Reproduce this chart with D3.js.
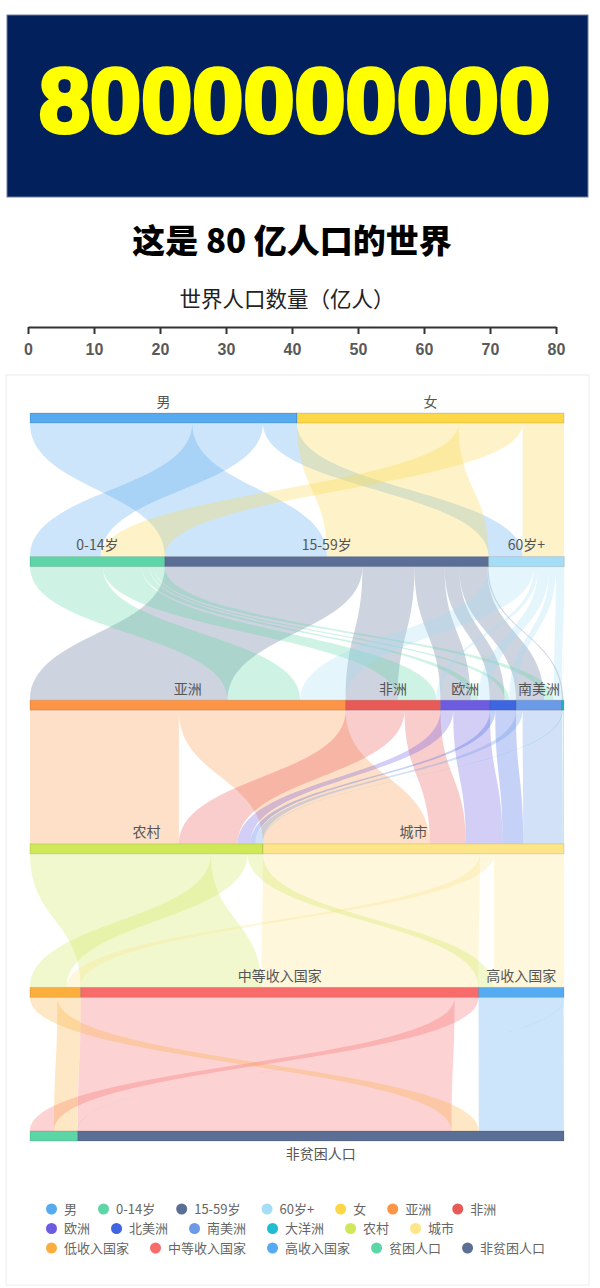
<!DOCTYPE html>
<html><head><meta charset="utf-8">
<script src="https://cdn.jsdelivr.net/npm/d3@7"></script>
<style>body{margin:0;background:#fff}</style></head>
<body><svg id="c" width="600" height="1288"></svg>
<script>
// ---------------- DATA ----------------
const bannerText = "8000000000";
const titleText = "这是 80 亿人口的世界";
const axisTitle = "世界人口数量（亿人）";
const axisTicks = [0, 10, 20, 30, 40, 50, 60, 70, 80];
const axisMax = 80;

const layerSex = ["男", "女"];
const layerAge = ["0-14岁", "15-59岁", "60岁+"];
const layerContinent = ["亚洲", "非洲", "欧洲", "北美洲", "南美洲", "大洋洲"];
const layerArea = ["农村", "城市"];
const layerIncome = ["低收入国家", "中等收入国家", "高收入国家"];
const layerPoverty = ["贫困人口", "非贫困人口"];

const legendNames = ["男","0-14岁","15-59岁","60岁+","女","亚洲","非洲","欧洲","北美洲","南美洲","大洋洲","农村","城市","低收入国家","中等收入国家","高收入国家","贫困人口","非贫困人口"];
const legendColors = ["#55aaf0","#5cd6a6","#5b6e96","#a6ddf6","#fcd748","#fd9446","#e85a55","#6e5ce0","#3f66e0","#6b9ae6","#1fbcd2","#cfe858","#fde68a","#fbae3e","#f86b6b","#56aaf2","#5cd6a6","#5b6e96"];
const legendRowStarts = [0, 7, 13];

// links in data order: [source, target, value (亿人)]
const linksSexAge = [
  ["男", "15-59岁", 24.3], ["男", "0-14岁", 10.6], ["男", "60岁+", 5.1],
  ["女", "15-59岁", 24.2], ["女", "0-14岁", 9.6], ["女", "60岁+", 6.2]
];
const linksAgeContinent = [
  ["15-59岁","亚洲",29.6],["15-59岁","非洲",7.8],["15-59岁","欧洲",4.5],["15-59岁","北美洲",2.2],["15-59岁","南美洲",4.2],["15-59岁","大洋洲",0.2],
  ["0-14岁","亚洲",10.9],["0-14岁","非洲",5.8],["0-14岁","欧洲",1.2],["0-14岁","北美洲",0.7],["0-14岁","南美洲",1.5],["0-14岁","大洋洲",0.06],
  ["60岁+","亚洲",6.8],["60岁+","非洲",0.6],["60岁+","欧洲",1.7],["60岁+","北美洲",1.0],["60岁+","南美洲",1.2],["60岁+","大洋洲",0.04]
];
const linksContinentArea = [
  ["亚洲","农村",22.3],["亚洲","城市",25.0],
  ["非洲","农村",8.8],["非洲","城市",5.4],
  ["欧洲","农村",1.9],["欧洲","城市",5.5],
  ["北美洲","农村",0.8],["北美洲","城市",3.1],
  ["南美洲","农村",1.0],["南美洲","城市",5.9],
  ["大洋洲","农村",0.1],["大洋洲","城市",0.2]
];
const linksAreaIncome = [
  ["农村","中等收入国家",27.1],["城市","中等收入国家",32.5],
  ["农村","低收入国家",5.5],["城市","低收入国家",2.1],
  ["农村","高收入国家",2.3],["城市","高收入国家",10.5]
];
const linksIncomePoverty = [
  ["中等收入国家","非贫困人口",56.0],["中等收入国家","贫困人口",3.6],
  ["低收入国家","非贫困人口",4.1],["低收入国家","贫困人口",3.5],
  ["高收入国家","非贫困人口",12.75],["高收入国家","贫困人口",0.05]
];

// ---------------- LAYOUT ----------------
const svg = d3.select("#c");
const cjk = "'Noto Sans CJK SC','Noto Sans',sans-serif";

// banner
svg.append("rect").attr("x", 7).attr("y", 15).attr("width", 581).attr("height", 182)
  .attr("fill", "#02205c").attr("stroke", "#6f7fa0").attr("stroke-width", 1);
svg.append("text").attr("x", 39).attr("y", 132)
  .attr("textLength", 511).attr("lengthAdjust", "spacingAndGlyphs")
  .style("font-family", "'Liberation Sans',Arial,sans-serif").style("font-weight", "bold")
  .style("font-size", "91px").attr("fill", "#ffff00").attr("stroke", "#ffff00")
  .attr("stroke-width", 4).attr("stroke-linejoin", "round").text(bannerText);

// title
svg.append("text").attr("x", 292).attr("y", 253).attr("text-anchor", "middle")
  .style("font-family", cjk).style("font-weight", "900").style("font-size", "33px")
  .attr("fill", "#000").text(titleText);

// axis
svg.append("text").attr("x", 287).attr("y", 307).attr("text-anchor", "middle")
  .style("font-family", cjk).style("font-size", "21.5px").attr("fill", "#222").text(axisTitle);
const xAxisScale = d3.scaleLinear().domain([0, axisMax]).range([28, 556]);
const gAxis = svg.append("g").attr("transform", "translate(0,327)")
  .call(d3.axisBottom(xAxisScale).tickValues(axisTicks).tickSize(7).tickSizeOuter(0).tickPadding(10).tickFormat(d3.format("d")));
gAxis.select(".domain").attr("stroke", "#333").attr("stroke-width", 2);
gAxis.selectAll(".tick line").attr("stroke", "#333").attr("stroke-width", 2);
gAxis.selectAll(".tick text").attr("fill", "#595959")
  .style("font-family", "'Liberation Sans',Arial,sans-serif").style("font-weight", "bold").style("font-size", "16px");

// panel
svg.append("rect").attr("x", 6).attr("y", 375).attr("width", 583).attr("height", 910)
  .attr("fill", "none").attr("stroke", "#ececec");

// sankey
const layers = [layerSex, layerAge, layerContinent, layerArea, layerIncome, layerPoverty];
const links = [].concat(linksSexAge, linksAgeContinent, linksContinentArea, linksAreaIncome, linksIncomePoverty)
  .map(([s, t, v]) => ({ source: s, target: t, value: v }));
const color = d3.scaleOrdinal().domain(legendNames).range(legendColors);
const xv = d3.scaleLinear().domain([0, axisMax]).range([30, 564]);
const k = xv(1) - xv(0);
const yLayer = d3.scaleLinear().domain([0, layers.length - 1]).range([413, 1131]);
const nodeH = 10;

const nodes = {};
layers.forEach((names, li) => {
  names.forEach(n => { nodes[n] = { name: n, layer: li, inSum: 0, outSum: 0, outOff: 0, inOff: 0 }; });
});
links.forEach(l => { nodes[l.source].outSum += l.value; nodes[l.target].inSum += l.value; });
layers.forEach((names, li) => {
  let acc = 0;
  names.forEach(n => {
    const nd = nodes[n];
    nd.value = Math.max(nd.inSum, nd.outSum);
    nd.x0 = xv(acc); acc += nd.value; nd.x1 = xv(acc);
    nd.y = yLayer(li);
  });
});
links.forEach(l => {
  const s = nodes[l.source], t = nodes[l.target];
  l.w = l.value * k;
  l.sx = s.x0 + s.outOff; s.outOff += l.w;
  l.tx = t.x0 + t.inOff; t.inOff += l.w;
  l.y0 = s.y + nodeH; l.y1 = t.y;
});
function linkPath(l) {
  const ym = (l.y0 + l.y1) / 2;
  return `M${l.sx},${l.y0}C${l.sx},${ym} ${l.tx},${ym} ${l.tx},${l.y1}` +
    `L${l.tx + l.w},${l.y1}C${l.tx + l.w},${ym} ${l.sx + l.w},${ym} ${l.sx + l.w},${l.y0}Z`;
}
svg.append("g").selectAll("path").data(links).join("path")
  .attr("d", linkPath).attr("fill", d => color(d.source)).attr("fill-opacity", 0.3);

const nodeList = Object.values(nodes);
svg.append("g").selectAll("rect").data(nodeList).join("rect")
  .attr("x", d => d.x0).attr("y", d => d.y).attr("width", d => d.x1 - d.x0).attr("height", nodeH)
  .attr("fill", d => color(d.name)).attr("stroke", "rgba(0,0,0,0.12)").attr("stroke-width", 1);

const lastLayer = layers.length - 1;
const labels = svg.append("g").selectAll("text").data(nodeList).join("text")
  .attr("x", d => (d.x0 + d.x1) / 2)
  .attr("y", d => d.layer === lastLayer ? d.y + nodeH + 18 : d.y - 6.5)
  .attr("text-anchor", "middle").style("font-family", cjk).style("font-size", "14px")
  .attr("fill", "#555").text(d => d.name);
labels.each(function (d) {
  if (this.getComputedTextLength() > d.x1 - d.x0) d3.select(this).attr("display", "none");
});

// legend
const legendRows = legendRowStarts.map((s, i) => legendNames.slice(s, legendRowStarts[i + 1]));
const rowY = d3.scaleLinear().domain([0, 2]).range([1209, 1248]);
legendRows.forEach((row, ri) => {
  let x = 46;
  row.forEach(name => {
    const g = svg.append("g");
    g.append("circle").attr("cx", x + 5.5).attr("cy", rowY(ri)).attr("r", 5.5).attr("fill", color(name));
    const t = g.append("text").attr("x", x + 18).attr("y", rowY(ri) + 4.5)
      .style("font-family", cjk).style("font-size", "13px").attr("fill", "#666").text(name);
    x = x + 18 + t.node().getComputedTextLength() + 21;
  });
});
</script>
</body></html>
